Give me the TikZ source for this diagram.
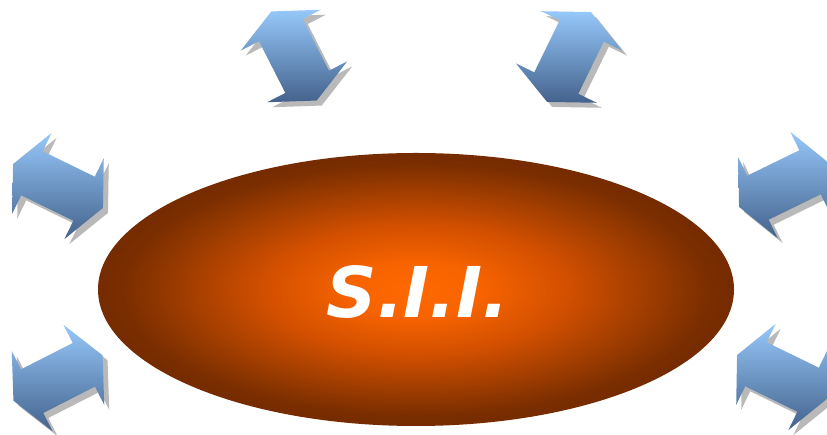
\documentclass[tikz,border=0pt]{standalone}
\usepackage{fontspec}
\newfontfamily\siifont{DejaVu Sans}
\definecolor{arrowtop}{RGB}{150,200,250}
\definecolor{arrowbottom}{RGB}{68,98,140}
\definecolor{arrowshadow}{RGB}{185,185,185}
\pgfdeclareradialshading{siiglow}{\pgfpoint{0bp}{0bp}}{%
  rgb(0bp)=(1,0.41,0);
  rgb(5bp)=(0.97,0.39,0);
  rgb(12bp)=(0.82,0.31,0);
  rgb(19bp)=(0.6,0.23,0);
  rgb(23bp)=(0.48,0.18,0);
  rgb(25bp)=(0.46,0.17,0);
  rgb(50bp)=(0.46,0.17,0)}
\tikzset{
  arrowfill/.style={top color=arrowtop, bottom color=arrowbottom},
  arrowshade/.style={fill=arrowshadow},
}
\newcommand\duoarrow[3]{%
  \begin{scope}[shift={(#1,#2)}]
    \fill[arrowshade, shift={(5,-5)}] (#3:50) -- ({#3+57.2}:53.53) -- ({#3+40.2}:37.96) -- ({#3+139.8}:37.96) -- ({#3+122.8}:53.53) -- ({#3+180}:50) -- ({#3+237.2}:53.53) -- ({#3+220.2}:37.96) -- ({#3+319.8}:37.96) -- ({#3+302.8}:53.53) -- cycle;
    \shade[arrowfill] (#3:50) -- ({#3+57.2}:53.53) -- ({#3+40.2}:37.96) -- ({#3+139.8}:37.96) -- ({#3+122.8}:53.53) -- ({#3+180}:50) -- ({#3+237.2}:53.53) -- ({#3+220.2}:37.96) -- ({#3+319.8}:37.96) -- ({#3+302.8}:53.53) -- cycle;
  \end{scope}}
\begin{document}
\begin{tikzpicture}[x=1pt,y=1pt]
  \useasboundingbox (0,0) rectangle (827,435);
  \clip (0,0) rectangle (827,435);
  \fill[white] (0,0) rectangle (827,435);
  % arrows
  \duoarrow{294}{379}{117}
  \duoarrow{569}{378}{64}
  \duoarrow{58}{249}{154}
  \duoarrow{784}{250}{26}
  \duoarrow{58}{57}{27}
  \duoarrow{782}{58}{154}
  % ellipse
  \shade[shading=siiglow] (416,145.5) ellipse [x radius=318, y radius=136.5];
  \node[anchor=base, text=white, font=\siifont\bfseries\itshape\fontsize{70}{76}\selectfont, inner sep=0pt] (sii) at (418,117) {S.I.I.};
\end{tikzpicture}
\end{document}
